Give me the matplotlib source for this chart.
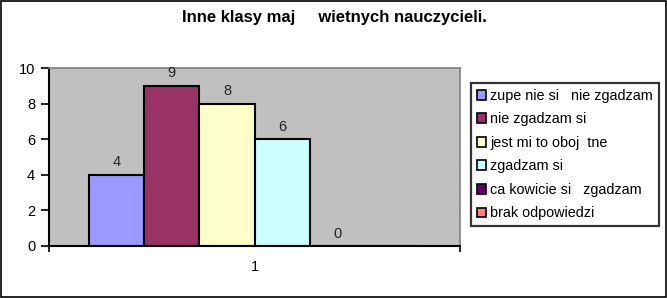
import numpy as np
import matplotlib.pyplot as plt
from matplotlib.patches import Rectangle

# dane z wykresu
title = "Inne klasy maj     wietnych nauczycieli."
answers = ["zupe nie si   nie zgadzam", "nie zgadzam si", "jest mi to oboj  tne",
           "zgadzam si", "ca kowicie si   zgadzam", "brak odpowiedzi"]
counts = [4, 9, 8, 6, 0, np.nan]
colors = ["#9999FF", "#993366", "#FFFFCC", "#CCFFFF", "#660066", "#FF8080"]
category = ["1"]

plt.rcParams['font.family'] = ['Liberation Sans', 'DejaVu Sans']

fig = plt.figure(figsize=(6.67, 2.98), dpi=100)
ax = fig.add_axes([0.0735, 0.1745, 0.6162, 0.5973])
ax.set_facecolor("#C0C0C0")

gap = 0.0973
w = (1 - 2 * gap) / len(answers)
for k in range(len(answers)):
    x = gap + w * k + w / 2
    val = counts[k]
    h = 0 if np.isnan(val) else val
    ax.bar(x, h, width=w, color=colors[k], edgecolor="black", linewidth=1.5,
           label=answers[k])
    if not np.isnan(val):
        ax.text(x, h + 0.3, "%d" % val, ha="center", va="bottom", fontsize=10.5, color="#222222")

ax.set_xlim(0, 1)
ax.set_ylim(0, 10)
ax.set_yticks(range(0, 11, 2))
ax.set_xticks([0.5])
ax.set_xticklabels(category)
ax.set_xticks([0, 1], minor=True)
ax.tick_params(axis="x", which="major", length=0, pad=10, labelsize=10.5)
ax.tick_params(axis="x", which="minor", length=4.5, width=1.2, direction="out")
ax.tick_params(axis="y", length=6, width=1.2, direction="out", labelsize=10.5, pad=4)

for s in ["top", "right"]:
    ax.spines[s].set_color("#808080")
    ax.spines[s].set_linewidth(1.2)
for s in ["left", "bottom"]:
    ax.spines[s].set_color("black")
    ax.spines[s].set_linewidth(1.5)

fig.text(0.501, 0.94, title, ha="center", va="center", fontsize=12, fontweight="bold")

leg = fig.legend(loc="upper left", bbox_to_anchor=(0.706, 0.7215), fontsize=10.4,
                 handlelength=0.65, handleheight=0.65, handletextpad=0.3,
                 labelspacing=0.66, borderpad=0.4, frameon=True, fancybox=False,
                 borderaxespad=0)
leg.get_frame().set_edgecolor("black")
leg.get_frame().set_linewidth(1.6)
for p in leg.get_patches():
    p.set_linewidth(1.2)

fig.patches.append(Rectangle((0.001, 0.002), 0.997, 0.995, transform=fig.transFigure,
                             fill=False, edgecolor="black", linewidth=1.2))

fig.savefig("out.png", dpi=100)
